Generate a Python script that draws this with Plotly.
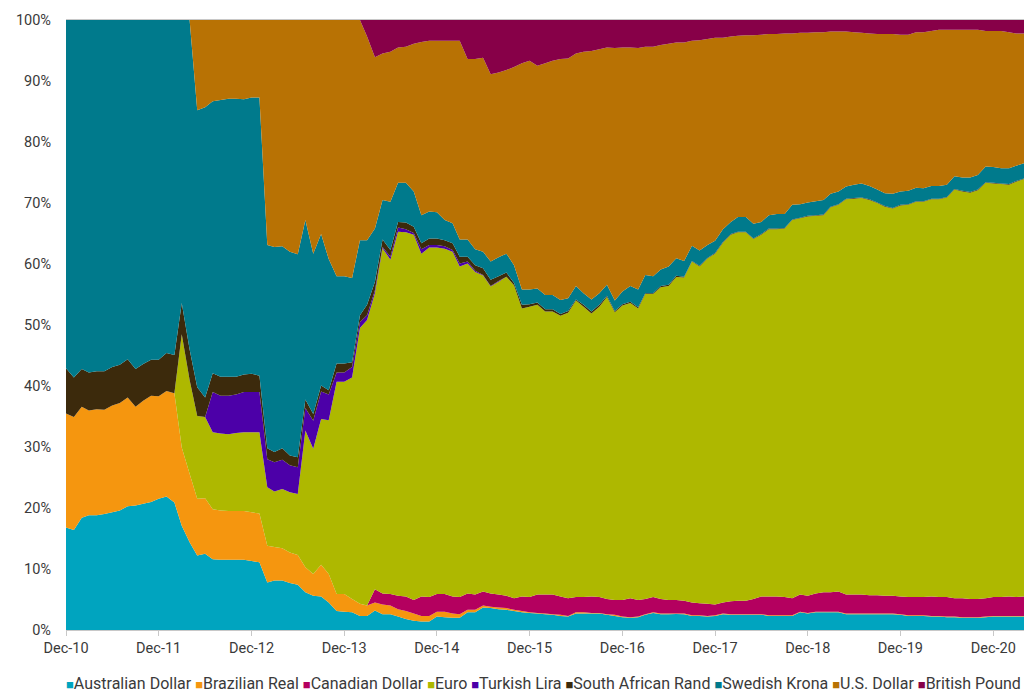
import pandas as pd
import plotly.graph_objects as go

months = pd.date_range("2010-12-01", periods=125, freq="MS")

aud = [16.8, 16.4, 18.4, 18.8, 18.8, 19.0, 19.3, 19.6, 20.3, 20.4, 20.7, 21.0, 21.5, 21.9, 20.9,
       17.1, 14.4, 12.2, 12.5, 11.6, 11.5, 11.5, 11.5, 11.5, 11.3, 11.1, 7.8, 8.1, 8.1, 7.7,
       7.4, 6.2, 5.6, 5.5, 4.5, 3.1, 3.0, 2.9, 2.3, 2.3, 3.2, 2.6, 2.6, 2.2, 1.8,
       1.5, 1.4, 1.4, 2.2, 2.1, 2.0, 2.0, 2.9, 2.9, 3.7, 3.6, 3.4, 3.3, 3.1, 2.9,
       2.8, 2.7, 2.6, 2.5, 2.3, 2.2, 2.7, 2.7, 2.7, 2.7, 2.5, 2.3, 2.1, 2.0, 2.1,
       2.5, 2.8, 2.6, 2.6, 2.6, 2.6, 2.3, 2.3, 2.2, 2.3, 2.6, 2.5, 2.5, 2.5, 2.5,
       2.5, 2.3, 2.3, 2.3, 2.3, 2.9, 2.7, 2.9, 2.9, 2.9, 2.9, 2.6, 2.6, 2.6, 2.6,
       2.6, 2.6, 2.6, 2.5, 2.3, 2.3, 2.3, 2.2, 2.2, 2.1, 2.1, 2.0, 2.0, 2.0, 2.1,
       2.2, 2.2, 2.2, 2.2, 2.2]

brl = [18.7, 18.5, 18.2, 17.2, 17.4, 17.1, 17.5, 17.6, 17.8, 16.2, 16.9, 17.4, 16.8, 17.3, 17.9,
       12.8, 11.2, 9.3, 9.1, 8.2, 8.1, 8.0, 8.0, 8.0, 8.0, 8.0, 6.0, 5.5, 5.3, 5.0,
       4.9, 4.1, 3.6, 5.2, 4.7, 2.8, 2.9, 2.2, 2.0, 1.7, 1.3, 1.6, 1.4, 1.2, 1.3,
       1.2, 0.9, 0.9, 0.8, 0.9, 0.7, 0.6, 0.4, 0.4, 0.3, 0.2, 0.3, 0.3, 0.2, 0.2,
       0.1, 0.1, 0.1, 0.1, 0.2, 0.1, 0.2, 0.2, 0.1, 0.1, 0.1, 0.2, 0.1, 0.1, 0.1] + [0.1] * 50

cad = [0.0] * 40 + [
       2.2, 1.8, 1.9, 2.2, 2.4, 2.2, 3.2, 3.1, 2.9, 2.9, 2.8, 2.8, 2.7, 2.5, 2.3,
       2.2, 2.1, 2.0, 1.9, 2.4, 2.5, 3.0, 3.1, 3.2, 3.0, 2.9, 2.5, 2.5, 2.7, 2.6,
       2.5, 2.4, 2.7, 3.1, 2.7, 2.5, 2.5, 2.4, 2.2, 2.2, 2.1, 2.1, 2.0, 2.0, 1.8,
       1.8, 2.1, 2.2, 2.2, 2.5, 2.9, 3.1, 3.1, 3.0, 2.8, 2.8, 2.8, 3.0, 3.2, 3.2,
       3.3, 3.1, 3.1, 3.1, 3.0, 3.0, 2.9, 2.9, 2.9, 3.0, 3.0, 3.0, 3.2, 3.1, 3.2,
       3.0, 3.1, 3.0, 3.0, 3.0, 3.1, 3.1, 3.2, 3.1, 3.2]

eur = [0.0] * 15 + [
       18.6, 15.4, 13.6, 13.3, 12.6, 12.6, 12.6, 12.8, 12.9, 13.1, 13.3, 9.6, 9.1, 9.7, 9.9,
       10.0, 22.4, 20.5, 23.9, 25.2, 34.8, 34.8, 36.3, 45.2, 46.8, 48.5, 56.6, 54.8, 59.7, 59.7,
       59.9, 56.2, 57.3, 56.8, 56.6, 56.5, 54.2, 54.1, 52.9, 51.8, 50.3, 51.3, 52.3, 51.3, 47.2,
       47.6, 47.5, 46.4, 46.4, 46.0, 46.8, 48.6, 47.6, 46.4, 47.6, 49.5, 47.2, 48.3, 48.4, 47.8,
       50.0, 49.7, 51.1, 51.5, 52.9, 53.0, 55.9, 55.2, 56.6, 57.5, 59.0, 60.1, 60.4, 60.4, 59.0,
       59.3, 60.2, 60.2, 60.4, 62.0, 61.7, 62.2, 61.9, 61.8, 63.1, 63.4, 64.8, 64.9, 65.0, 64.8,
       64.3, 63.8, 63.5, 64.1, 64.3, 64.8, 64.8, 65.1, 65.2, 65.5, 67.0, 66.7, 66.6, 67.0, 68.1,
       67.8, 67.7, 67.5, 68.1, 68.5]

tryl = [0.0] * 19 + [
       6.6, 6.2, 6.3, 6.3, 6.6, 6.6, 6.6, 4.6, 4.8, 4.8, 4.4, 4.4, 3.7, 4.6, 4.5,
       4.2, 1.5, 1.5, 1.7, 1.0, 0.8, 0.5, 0.2, 0.5, 0.7, 0.5, 0.3, 0.7, 0.4, 0.4,
       0.4, 0.3, 0.5, 0.3, 0.2, 0.1, 0.1, 0.1, 0.0] + [0.0] * 67

zar = [7.4, 6.5, 6.2, 6.2, 6.2, 6.3, 6.3, 6.3, 6.3, 6.2, 6.0, 5.9, 6.0, 6.2, 6.3,
       5.1, 5.0, 4.7, 3.2, 3.1, 3.1, 3.1, 2.9, 2.9, 3.0, 2.7, 1.8, 1.7, 1.9, 1.6,
       1.6, 1.4, 1.1, 1.0, 0.7, 1.5, 1.5, 0.8, 1.1, 1.7, 1.4, 1.2, 1.1, 0.9, 1.1,
       1.0, 1.0, 1.1, 1.1, 1.0, 1.1, 1.1, 0.8, 0.9, 1.1, 1.0, 0.8, 0.7, 0.4, 0.6,
       0.4, 0.4, 0.4, 0.4, 0.3, 0.3, 0.2, 0.3, 0.3, 0.3, 0.2, 0.2, 0.2, 0.2, 0.2,
       0.1, 0.1, 0.2, 0.2, 0.2] + [0.1] * 45

sek = [57.1, 58.6, 57.2, 57.8, 57.6, 57.6, 56.9, 56.5, 55.6, 57.2, 56.4, 55.7, 55.7, 54.6, 54.9,
       46.4, 54.0, 45.4, 47.6, 44.6, 45.4, 45.6, 45.6, 45.1, 45.3, 45.6, 33.3, 33.6, 33.1, 33.4,
       33.3, 29.4, 26.3, 24.8, 21.5, 14.3, 14.3, 13.8, 12.3, 10.6, 8.7, 6.5, 7.9, 6.4, 6.5,
       5.8, 4.6, 4.4, 4.3, 3.3, 3.3, 2.8, 2.8, 2.6, 2.7, 3.0, 3.1, 3.1, 2.9, 2.5,
       2.4, 2.3, 2.3, 2.3, 2.3, 2.1, 2.2, 1.9, 2.0, 1.9, 1.8, 1.7, 2.1, 2.6, 2.9,
       3.0, 2.8, 2.7, 3.0, 2.9, 2.6, 2.5, 2.5, 2.1, 2.0, 2.1, 2.0, 2.4, 2.4, 2.4,
       2.0, 2.2, 2.4, 2.3, 2.4, 2.2, 2.2, 2.3, 2.4, 2.1, 2.1, 2.0, 2.2, 2.3, 2.2,
       2.1, 2.1, 2.3, 2.2, 2.2, 2.2, 2.1, 2.1, 2.1, 2.0, 2.1, 2.2, 2.4, 2.4, 2.6,
       2.6, 2.5, 2.6, 2.5, 2.5]

usd = [0.0] * 17 + [
       14.8, 14.3, 13.3, 13.1, 12.9, 12.9, 13.0, 12.7, 12.7, 36.9, 37.2, 37.1, 38.0,
       38.4, 32.8, 38.3, 35.1, 39.2, 42.0, 42.0, 42.3, 36.1, 33.4, 28.1, 24.0, 24.6, 22.2, 22.3,
       24.2, 28.4, 28.0, 28.1, 29.4, 29.9, 32.6, 29.6, 31.2, 31.8, 30.7, 30.3, 30.1, 32.5, 37.1,
       37.5, 36.5, 38.0, 38.4, 39.5, 39.3, 38.1, 39.6, 40.7, 40.0, 38.9, 41.4, 40.0, 39.1, 39.6,
       37.4, 37.6, 36.8, 36.5, 35.3, 35.8, 33.6, 34.5, 33.8, 33.3, 31.4, 30.4, 29.7, 29.8, 30.9,
       30.7, 29.7, 29.5, 29.6, 28.1, 28.1, 27.8, 27.7, 27.5, 26.6, 26.2, 25.4, 25.0, 24.7, 25.0,
       25.5, 26.1, 26.2, 25.7, 25.6, 25.5, 25.6, 25.4, 25.6, 25.4, 24.0, 24.2, 24.2, 23.8, 22.2,
       22.3, 22.5, 22.3, 21.7, 21.3]

gbp = [0.0] * 39 + [
       2.7, 6.1, 5.5, 5.2, 4.5, 4.4, 3.9, 3.6, 3.4, 3.4, 3.4, 3.4, 3.4, 6.4, 6.4,
       6.2, 8.9, 8.6, 8.2, 7.7, 7.1, 6.7, 7.5, 7.1, 6.7, 6.4, 6.3, 5.5, 5.2, 5.1,
       4.8, 4.5, 4.6, 4.5, 4.5, 4.6, 4.4, 4.4, 4.1, 3.9, 3.7, 3.7, 3.4, 3.3, 3.1,
       2.9, 2.9, 2.7, 2.6, 2.5, 2.5, 2.4, 2.3, 2.3, 2.2, 2.2, 2.1, 2.1, 2.0, 2.0,
       1.9, 1.9, 1.9, 2.0, 2.1, 2.2, 2.3, 2.3, 2.3, 2.4, 2.4, 2.0, 2.0, 1.8, 1.6,
       1.6, 1.6, 1.6, 1.6, 1.6, 1.8, 1.8, 1.8, 2.0, 2.2, 2.2]

series_names = ["Australian Dollar", "Brazilian Real", "Canadian Dollar", "Euro", "Turkish Lira",
                "South African Rand", "Swedish Krona", "U.S. Dollar", "British Pound"]
series_values = [aud, brl, cad, eur, tryl, zar, sek, usd, gbp]
colors = ["#00A4BF", "#F5960F", "#B4005F", "#AEB800", "#4C00A8",
          "#3C2A0C", "#007A8C", "#B87204", "#870048"]

tick_dates = pd.date_range("2010-12-01", periods=11, freq="12MS")
tick_labels = ["Dec-10", "Dec-11", "Dec-12", "Dec-13", "Dec-14", "Dec-15",
               "Dec-16", "Dec-17", "Dec-18", "Dec-19", "Dec-20"]

fig = go.Figure()
for name, vals, col in zip(series_names, series_values, colors):
    fig.add_trace(go.Scatter(
        x=months, y=vals, name=name, mode="none",
        stackgroup="one", groupnorm="percent",
        fillcolor=col, line=dict(width=0),
        showlegend=False,
    ))

legend_text = " ".join(
    f"<span style='color:{c};font-size:13px'>■</span>{n}" for n, c in zip(series_names, colors)
)
fig.add_annotation(
    text=legend_text, xref="paper", yref="paper", x=0.498, y=-0.087,
    xanchor="center", yanchor="middle", showarrow=False,
    font=dict(family="Roboto", size=16, color="#3a3a3a"),
)

fig.update_layout(
    width=1026, height=692,
    margin=dict(l=66, r=2, t=20, b=62),
    paper_bgcolor="white", plot_bgcolor="white",
    font=dict(family="Roboto", size=14.5, color="#3a3a3a"),
    xaxis=dict(
        range=[months[0], months[-1]],
        tickvals=tick_dates, ticktext=tick_labels,
        showgrid=False, zeroline=False,
        showline=True, linecolor="#c8c8c8", linewidth=1, mirror=True,
        ticks="outside", ticklen=5, tickcolor="#c8c8c8",
    ),
    yaxis=dict(
        range=[0, 100], dtick=10, ticksuffix="%",
        showgrid=False, zeroline=False, showline=False,
        ticklabelstandoff=14,
    ),
)

fig.write_html(
    "out.html",
    config={"displayModeBar": False},
    post_script="document.body.style.margin='0';document.body.style.overflow='hidden';",
)
